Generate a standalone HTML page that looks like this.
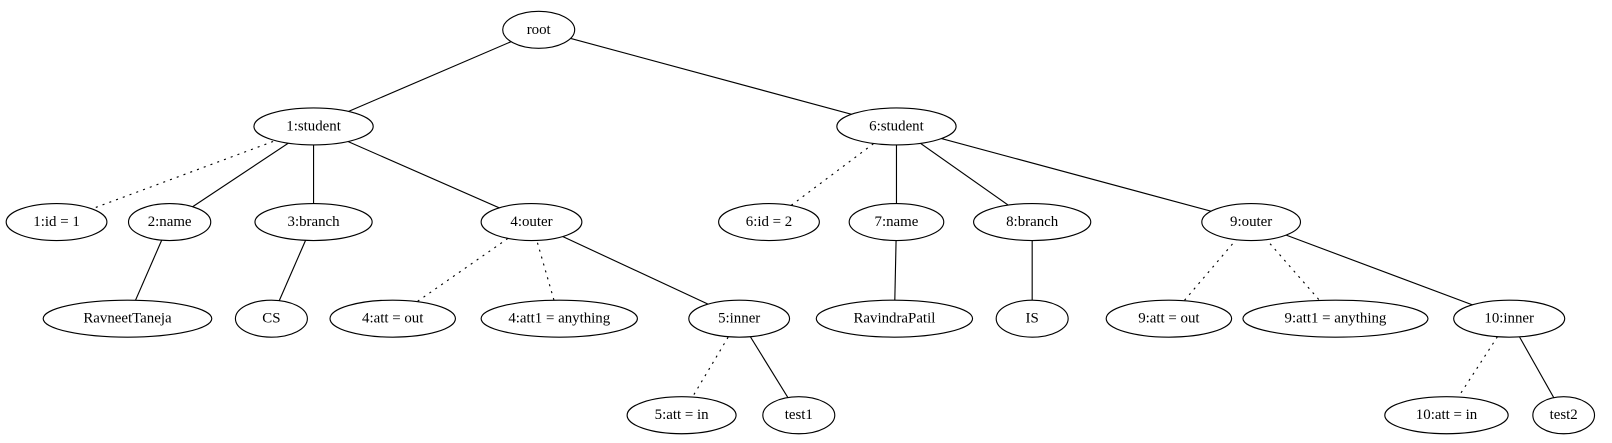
<!DOCTYPE html>
<html><head><meta charset="utf-8"><style>body{margin:0;background:#fff}svg{display:block}text{font-family:"Liberation Serif",serif;font-size:14.5px;text-anchor:middle;dominant-baseline:central}</style></head>
<body>
<svg width="1612" height="443" viewBox="0 0 1568 431" preserveAspectRatio="none" xmlns="http://www.w3.org/2000/svg">
<g stroke="#000" stroke-width="1.1">
<line x1="524" y1="29" x2="305" y2="123"/>
<line x1="524" y1="29" x2="872" y2="123"/>
<line x1="305" y1="123" x2="55" y2="216" stroke-dasharray="2,5"/>
<line x1="305" y1="123" x2="165" y2="216"/>
<line x1="305" y1="123" x2="305" y2="216"/>
<line x1="305" y1="123" x2="517" y2="216"/>
<line x1="872" y1="123" x2="748" y2="216" stroke-dasharray="2,5"/>
<line x1="872" y1="123" x2="872" y2="216"/>
<line x1="872" y1="123" x2="1004" y2="216"/>
<line x1="872" y1="123" x2="1217" y2="216"/>
<line x1="165" y1="216" x2="124" y2="310"/>
<line x1="305" y1="216" x2="264" y2="310"/>
<line x1="517" y1="216" x2="382" y2="310" stroke-dasharray="2,5"/>
<line x1="517" y1="216" x2="544" y2="310" stroke-dasharray="2,5"/>
<line x1="517" y1="216" x2="719" y2="310"/>
<line x1="872" y1="216" x2="870" y2="310"/>
<line x1="1004" y1="216" x2="1004" y2="310"/>
<line x1="1217" y1="216" x2="1137" y2="310" stroke-dasharray="2,5"/>
<line x1="1217" y1="216" x2="1299" y2="310" stroke-dasharray="2,5"/>
<line x1="1217" y1="216" x2="1468" y2="310"/>
<line x1="719" y1="310" x2="663" y2="404" stroke-dasharray="2,5"/>
<line x1="719" y1="310" x2="777" y2="404"/>
<line x1="1468" y1="310" x2="1407" y2="404" stroke-dasharray="2,5"/>
<line x1="1468" y1="310" x2="1521" y2="404"/>
</g>
<g fill="#fff" stroke="#000" stroke-width="1.1">
<ellipse cx="524" cy="29" rx="35" ry="18"/>
<ellipse cx="305" cy="123" rx="58" ry="18"/>
<ellipse cx="872" cy="123" rx="58" ry="18"/>
<ellipse cx="55" cy="216" rx="49" ry="18"/>
<ellipse cx="165" cy="216" rx="40" ry="18"/>
<ellipse cx="305" cy="216" rx="57" ry="18"/>
<ellipse cx="517" cy="216" rx="49" ry="18"/>
<ellipse cx="748" cy="216" rx="49" ry="18"/>
<ellipse cx="872" cy="216" rx="46" ry="18"/>
<ellipse cx="1004" cy="216" rx="57" ry="18"/>
<ellipse cx="1217" cy="216" rx="48" ry="18"/>
<ellipse cx="124" cy="310" rx="82" ry="18"/>
<ellipse cx="264" cy="310" rx="35" ry="18"/>
<ellipse cx="382" cy="310" rx="61" ry="18"/>
<ellipse cx="544" cy="310" rx="76" ry="18"/>
<ellipse cx="719" cy="310" rx="49" ry="18"/>
<ellipse cx="870" cy="310" rx="76" ry="18"/>
<ellipse cx="1004" cy="310" rx="35" ry="18"/>
<ellipse cx="1137" cy="310" rx="61" ry="18"/>
<ellipse cx="1299" cy="310" rx="90" ry="18"/>
<ellipse cx="1468" cy="310" rx="54" ry="18"/>
<ellipse cx="663" cy="404" rx="53" ry="18"/>
<ellipse cx="777" cy="404" rx="35" ry="18"/>
<ellipse cx="1407" cy="404" rx="60" ry="18"/>
<ellipse cx="1521" cy="404" rx="30" ry="18"/>
</g>
<g>
<text x="524" y="29">root</text>
<text x="305" y="123">1:student</text>
<text x="872" y="123">6:student</text>
<text x="55" y="216">1:id = 1</text>
<text x="165" y="216">2:name</text>
<text x="305" y="216">3:branch</text>
<text x="517" y="216">4:outer</text>
<text x="748" y="216">6:id = 2</text>
<text x="872" y="216">7:name</text>
<text x="1004" y="216">8:branch</text>
<text x="1217" y="216">9:outer</text>
<text x="124" y="310">RavneetTaneja</text>
<text x="264" y="310">CS</text>
<text x="382" y="310">4:att = out</text>
<text x="544" y="310">4:att1 = anything</text>
<text x="719" y="310">5:inner</text>
<text x="870" y="310">RavindraPatil</text>
<text x="1004" y="310">IS</text>
<text x="1137" y="310">9:att = out</text>
<text x="1299" y="310">9:att1 = anything</text>
<text x="1468" y="310">10:inner</text>
<text x="663" y="404">5:att = in</text>
<text x="777" y="404">test1</text>
<text x="1407" y="404">10:att = in</text>
<text x="1521" y="404">test2</text>
</g>
</svg>
</body></html>
